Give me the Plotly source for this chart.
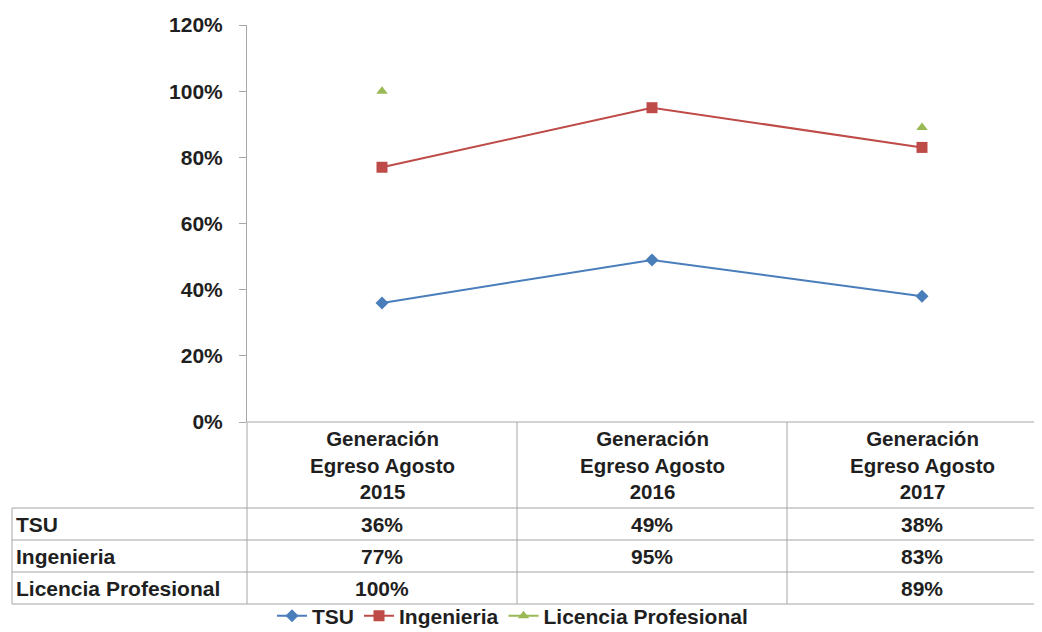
import plotly.graph_objects as go

categories = ["Generación<br>Egreso Agosto<br>2015",
              "Generación<br>Egreso Agosto<br>2016",
              "Generación<br>Egreso Agosto<br>2017"]
series_names = ["TSU", "Ingenieria", "Licencia Profesional"]
tsu = [0.36, 0.49, 0.38]
ingenieria = [0.77, 0.95, 0.83]
licencia = [1.00, None, 0.89]
y_ticks = [0, 0.2, 0.4, 0.6, 0.8, 1.0, 1.2]

PAGE_W, PAGE_H = 1042, 632
OFF = 8  # default body margin of the page
W, H = PAGE_W - OFF, PAGE_H - OFF
FONT = "Liberation Sans"
TXT = "#1f1f1f"
GRID = "#a6a6a6"

def px_x(p):
    return (p - OFF) / W

def px_y(p):
    return (H - (p - OFF)) / H

xs = [0, 1, 2]
fig = go.Figure()
styles = [
    ("#4a7ebb", "diamond", 10),
    ("#be4b48", "square", 11),
    ("#98b954", "triangle-up", 10),
]
for name, vals, (col, sym, sz) in zip(series_names, [tsu, ingenieria, licencia], styles):
    fig.add_trace(go.Scatter(
        x=xs, y=vals, name=name, mode="lines+markers",
        line=dict(color=col, width=2),
        marker=dict(symbol=sym, size=sz, color=col),
        connectgaps=False,
    ))

col_w = 270
plot_left = 247
x_right = -0.5 + (PAGE_W - plot_left) / col_w

y_zero = 422
y_top = 25
rows_y = [422, 508, 540, 572, 604]

fig.update_layout(
    width=W, height=H, autosize=False,
    margin=dict(l=0, r=0, t=0, b=0, autoexpand=False),
    paper_bgcolor="white", plot_bgcolor="white",
    font=dict(family=FONT, color=TXT),
    xaxis=dict(domain=[px_x(plot_left), 1], range=[-0.5, x_right],
               showticklabels=False, showgrid=False, zeroline=False,
               showline=False, ticks=""),
    yaxis=dict(domain=[px_y(y_zero), px_y(y_top)], range=[0, 1.2],
               tickvals=y_ticks, tickformat=".0%",
               showgrid=False, zeroline=False,
               showline=True, linecolor=GRID, linewidth=1,
               ticks="outside", ticklen=7, tickcolor=GRID,
               tickfont=dict(family=FONT, size=21, color=TXT, weight="bold"),
               ticklabelstandoff=12),
    legend=dict(orientation="h", x=px_x(272), xanchor="left",
                y=px_y(616), yanchor="middle",
                font=dict(family=FONT, size=21, color=TXT, weight="bold"),
                itemwidth=30, tracegroupgap=0, bgcolor="rgba(0,0,0,0)"),
    showlegend=True,
)

shapes = []
shapes.append(dict(type="line", xref="paper", yref="paper",
                   x0=px_x(plot_left), x1=1, y0=px_y(rows_y[0]), y1=px_y(rows_y[0]),
                   line=dict(color=GRID, width=1)))
for ry in rows_y[1:]:
    shapes.append(dict(type="line", xref="paper", yref="paper",
                       x0=px_x(12), x1=1, y0=px_y(ry), y1=px_y(ry),
                       line=dict(color=GRID, width=1)))
shapes.append(dict(type="line", xref="paper", yref="paper",
                   x0=px_x(12), x1=px_x(12), y0=px_y(rows_y[1]), y1=px_y(rows_y[-1]),
                   line=dict(color=GRID, width=1)))
shapes.append(dict(type="line", xref="paper", yref="paper",
                   x0=px_x(plot_left), x1=px_x(plot_left), y0=px_y(rows_y[0]), y1=px_y(rows_y[-1]),
                   line=dict(color=GRID, width=1)))
for i in range(len(categories) - 1):
    shapes.append(dict(type="line", xref="x", yref="paper",
                       x0=i + 0.5, x1=i + 0.5, y0=px_y(rows_y[0]), y1=px_y(rows_y[-1]),
                       line=dict(color=GRID, width=1)))
fig.update_layout(shapes=shapes)

ann = []
for i, c in enumerate(categories):
    ann.append(dict(x=i, xref="x", y=px_y((rows_y[0] + rows_y[1]) / 2), yref="paper",
                    yanchor="middle", xanchor="center",
                    text=c, showarrow=False, align="center",
                    font=dict(family=FONT, size=20.5, color=TXT, weight="bold")))
for r, (name, vals) in enumerate(zip(series_names, [tsu, ingenieria, licencia])):
    yc = px_y((rows_y[r + 1] + rows_y[r + 2]) / 2)
    ann.append(dict(x=px_x(14), xref="paper", y=yc, yref="paper",
                    xanchor="left", yanchor="middle",
                    text=name, showarrow=False,
                    font=dict(family=FONT, size=21, color=TXT, weight="bold")))
    for i, v in enumerate(vals):
        if v is None:
            continue
        ann.append(dict(x=i, xref="x", y=yc, yref="paper",
                        xanchor="center", yanchor="middle",
                        text=f"{round(v * 100)}%", showarrow=False,
                        font=dict(family=FONT, size=21, color=TXT, weight="bold")))
fig.update_layout(annotations=ann)

fig.write_html("out.html")
